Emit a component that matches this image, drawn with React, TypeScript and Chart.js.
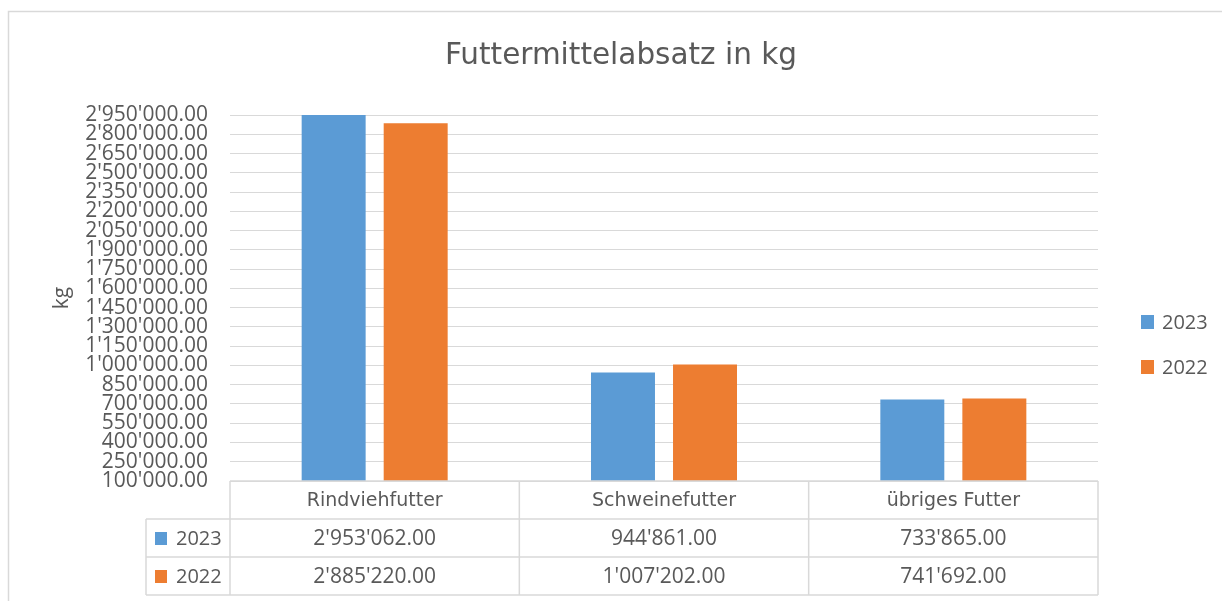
import React, { useEffect, useRef } from "react";
import { Chart, registerables } from "chart.js";

Chart.register(...registerables);

const TITLE = "Futtermittelabsatz in kg";
const Y_TITLE = "kg";
const CATEGORIES = ["Rindviehfutter", "Schweinefutter", "übriges Futter"];
const SERIES_LABELS = ["2023", "2022"];
const VALUES_2023 = [2953062, 944861, 733865];
const VALUES_2022 = [2885220, 1007202, 741692];
const SERIES_COLORS = ["#5B9BD5", "#ED7D31"];
const Y_MIN = 100000;
const Y_MAX = 2950000;
const Y_STEP = 150000;

const TEXT = "#595959";
const GRID = "#d9d9d9";
const NUM_FONT = "'Open Sans', 'Liberation Sans', sans-serif";
const WORD_FONT = "'DejaVu Sans', sans-serif";
const NUM_SIZE = 21;

function fmt(v: number): string {
  const [i, d] = v.toFixed(2).split(".");
  return i.replace(/\B(?=(\d{3})+(?!\d))/g, "'") + "." + d;
}

const framePlugin = {
  id: "frame",
  afterDraw(chart: any) {
    const { ctx, chartArea, scales, data } = chart;
    const xs = scales.x;
    const left = chartArea.left;
    const right = chartArea.right;
    const top = chartArea.bottom;
    const rowH = 38;
    const legendColW = 84;
    const n = CATEGORIES.length;
    const bounds: number[] = [left];
    for (let i = 0; i < n - 1; i++) {
      bounds.push((xs.getPixelForValue(i) + xs.getPixelForValue(i + 1)) / 2);
    }
    bounds.push(right);

    ctx.save();
    // outer chart border
    ctx.strokeStyle = GRID;
    ctx.lineWidth = 1.5;
    ctx.beginPath();
    ctx.moveTo(8.5, 601);
    ctx.lineTo(8.5, 11.5);
    ctx.lineTo(1222, 11.5);
    ctx.stroke();

    // table lines
    const line = (x1: number, y1: number, x2: number, y2: number) => {
      ctx.beginPath();
      ctx.moveTo(x1, y1);
      ctx.lineTo(x2, y2);
      ctx.stroke();
    };
    line(left, top, right, top);
    for (let r = 1; r <= 3; r++) {
      line(left - legendColW, top + r * rowH, right, top + r * rowH);
    }
    bounds.forEach((b) => line(b, top, b, top + 3 * rowH));
    line(left - legendColW, top + rowH, left - legendColW, top + 3 * rowH);

    // header row: categories
    ctx.fillStyle = TEXT;
    ctx.textAlign = "center";
    ctx.textBaseline = "middle";
    ctx.font = "19px " + WORD_FONT;
    CATEGORIES.forEach((c, i) => {
      ctx.fillText(c, (bounds[i] + bounds[i + 1]) / 2, top + rowH / 2 + 1);
    });

    // value rows
    data.datasets.forEach((ds: any, r: number) => {
      const cy = top + rowH * (r + 1) + rowH / 2 + 1;
      ctx.font = NUM_SIZE + "px " + NUM_FONT;
      ctx.fillStyle = TEXT;
      ctx.textAlign = "center";
      (ds.data as number[]).forEach((v, i) => {
        ctx.fillText(fmt(v), (bounds[i] + bounds[i + 1]) / 2, cy);
      });
      // row legend key
      ctx.fillStyle = ds.backgroundColor;
      ctx.fillRect(left - legendColW + 9, cy - 7, 12, 13);
      ctx.fillStyle = TEXT;
      ctx.textAlign = "left";
      ctx.font = "20px " + NUM_FONT;
      ctx.fillText(ds.label, left - legendColW + 30, cy);
    });

    // right legend
    data.datasets.forEach((ds: any, r: number) => {
      const cy = 322 + r * 45;
      ctx.fillStyle = ds.backgroundColor;
      ctx.fillRect(1141, cy - 7, 13, 14);
      ctx.fillStyle = TEXT;
      ctx.textAlign = "left";
      ctx.textBaseline = "middle";
      ctx.font = "20px " + NUM_FONT;
      ctx.fillText(ds.label, 1162, cy + 1);
    });
    ctx.restore();
  },
};

export default function App() {
  const ref = useRef<HTMLCanvasElement | null>(null);

  useEffect(() => {
    if (!ref.current) return;
    const chart = new Chart(ref.current, {
      type: "bar",
      data: {
        labels: CATEGORIES,
        datasets: [
          {
            label: SERIES_LABELS[0],
            data: VALUES_2023,
            backgroundColor: SERIES_COLORS[0],
            categoryPercentage: 0.567,
            barPercentage: 0.78,
          },
          {
            label: SERIES_LABELS[1],
            data: VALUES_2022,
            backgroundColor: SERIES_COLORS[1],
            categoryPercentage: 0.567,
            barPercentage: 0.78,
          },
        ],
      },
      options: {
        animation: false,
        responsive: false,
        devicePixelRatio: 1,
        layout: { padding: { left: 28, right: 8, top: 11, bottom: 8 } },
        plugins: {
          legend: { display: false },
          tooltip: { enabled: false },
          title: {
            display: true,
            text: TITLE,
            color: TEXT,
            font: { family: WORD_FONT, size: 29.5, weight: "normal" },
            padding: { top: 27.3, bottom: 41.3 },
          },
        },
        scales: {
          x: {
            display: true,
            grid: { display: false },
            border: { display: false },
            ticks: { display: false },
            afterFit: (s: any) => {
              s.height = 112;
            },
          },
          y: {
            min: Y_MIN,
            max: Y_MAX,
            grid: { color: GRID, lineWidth: 1, drawTicks: false },
            border: { display: false },
            title: {
              display: true,
              text: Y_TITLE,
              color: TEXT,
              font: { family: NUM_FONT, size: 21 },
              padding: { top: 21, bottom: 0 },
            },
            ticks: {
              stepSize: Y_STEP,
              autoSkip: false,
              padding: 22,
              color: TEXT,
              font: { family: NUM_FONT, size: NUM_SIZE },
              callback: (v: any) => fmt(Number(v)),
            },
            afterFit: (s: any) => {
              s.width = 202;
            },
          },
          y2: {
            position: "right",
            display: true,
            grid: { display: false },
            border: { display: false },
            ticks: { display: false },
            afterFit: (s: any) => {
              s.width = 116;
            },
          },
        },
      },
      plugins: [framePlugin],
    } as any);
    return () => chart.destroy();
  }, []);

  return (
    <div style={{ position: "fixed", left: 0, top: 0, width: 1222, height: 601, background: "#fff" }}>
      <canvas ref={ref} width={1222} height={601} style={{ display: "block" }} />
    </div>
  );
}
